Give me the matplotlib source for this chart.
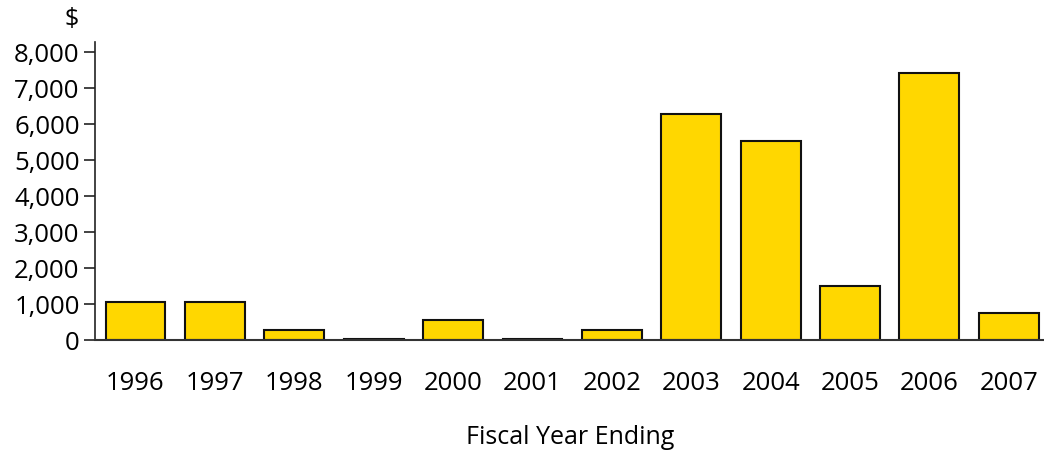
import numpy as np
import matplotlib.pyplot as plt
from matplotlib.ticker import FuncFormatter

years = ['1996', '1997', '1998', '1999', '2000', '2001',
         '2002', '2003', '2004', '2005', '2006', '2007']
amounts = [1070, 1070, 280, 50, 560, 45, 285, 6290, 5545, 1500, 7415, 750]

plt.rcParams['font.family'] = ['Open Sans', 'DejaVu Sans']

fig = plt.figure(figsize=(10.44, 4.55), dpi=100)
W, H = 1044., 455.
ax = fig.add_axes([95/W, (H-340.3)/H, (1043-95)/W, (340.3-41.7)/H])

x = np.arange(len(years))
ax.bar(x, amounts, width=0.755, color='#FFD700', edgecolor='#111111',
       linewidth=1.5, zorder=2)

ax.set_xlim(-0.51, len(years) - 0.57)
ax.set_ylim(0, 8000*298.6/288)
ax.set_yticks(np.arange(0, 8001, 1000))
ax.yaxis.set_major_formatter(FuncFormatter(lambda v, p: '{:,.0f}'.format(v)))
ax.set_xticks(x)
ax.set_xticklabels(years)

for s in ['top', 'right']:
    ax.spines[s].set_visible(False)
ax.spines['left'].set_color('#222222')
ax.spines['bottom'].set_color('#333333')
ax.spines['left'].set_linewidth(1.2)
ax.spines['bottom'].set_linewidth(1.5)
ax.spines['bottom'].set_zorder(3)

ax.tick_params(axis='y', length=8, width=1.2, color='#222222', labelsize=18.5, pad=3)
ax.tick_params(axis='x', length=0, labelsize=18.5, pad=22)

fig.text(72/W, 1-19/H, '$', fontsize=18, ha='center', va='center')
fig.text(570/W, 1-437/H, 'Fiscal Year Ending', fontsize=18, ha='center', va='center')

fig.savefig('out.png', dpi=100)
